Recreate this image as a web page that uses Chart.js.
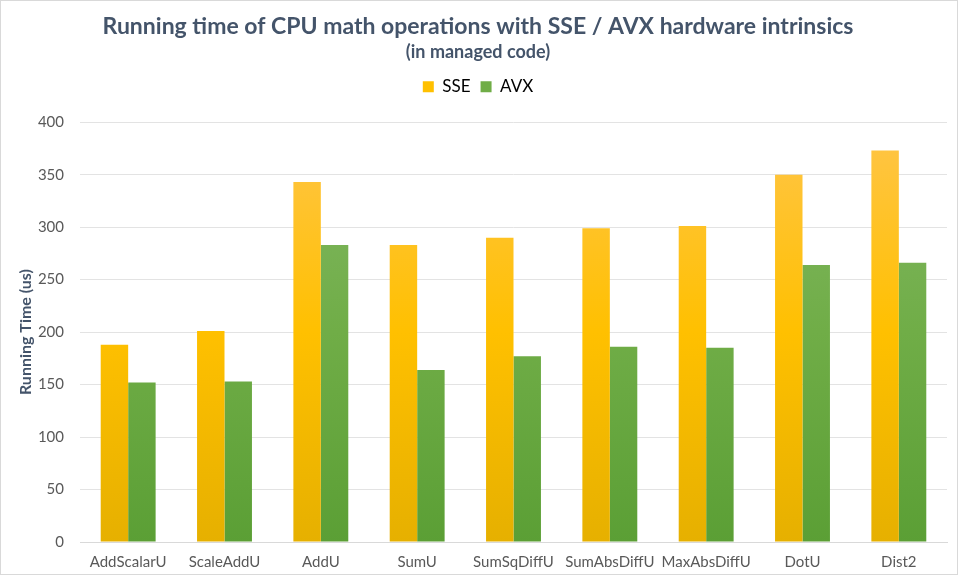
<!DOCTYPE html>
<html>
<head>
<meta charset="utf-8">
<script src="https://cdn.jsdelivr.net/npm/chart.js@4"></script>
<style>
  html, body { margin: 0; padding: 0; background: #fff; }
  #wrap { width: 958px; height: 575px; position: relative; box-sizing: border-box; border: 1px solid #d9d9d9; }
</style>
</head>
<body>
<div id="wrap"><canvas id="chart"></canvas></div>
<script>
// --- Data ---
const categories = ['AddScalarU', 'ScaleAddU', 'AddU', 'SumU', 'SumSqDiffU', 'SumAbsDiffU', 'MaxAbsDiffU', 'DotU', 'Dist2'];
const sseValues = [188, 201, 343, 283, 290, 299, 301, 350, 373];
const avxValues = [152, 153, 283, 164, 177, 186, 185, 264, 266];
const yTicks = [0, 50, 100, 150, 200, 250, 300, 350, 400];

const FONT = 'Lato, "Open Sans", sans-serif';
const TEXT_DARK = '#44546a';
const TEXT_GRAY = '#595959';
const LEGEND_GAP = 17; // extra space between legend and plot

// vertical gradient over the chart area, light at top, darker at bottom
function barGradient(stops) {
    return function (ctx) {
        const area = ctx.chart.chartArea;
        if (!area) return stops[1];
        const g = ctx.chart.ctx.createLinearGradient(0, area.top, 0, area.bottom);
        g.addColorStop(0, stops[0]);
        g.addColorStop(0.5, stops[1]);
        g.addColorStop(1, stops[2]);
        return g;
    };
}

// pad the legend box at the bottom so the plot starts lower
const legendGap = {
    id: 'legendGap',
    afterInit(chart) {
        const lg = chart.legend;
        if (!lg) return;
        const fit = lg.fit;
        lg.fit = function () { fit.call(this); this.height += LEGEND_GAP; };
    }
};

const ctx = document.getElementById('chart').getContext('2d');
new Chart(ctx, {
    type: 'bar',
    data: {
        labels: categories,
        datasets: [
            {
                label: 'SSE',
                data: sseValues,
                backgroundColor: barGradient(['#ffc54a', '#ffc000', '#e6b000'])
            },
            {
                label: 'AVX',
                data: avxValues,
                backgroundColor: barGradient(['#82b865', '#70ad47', '#5b9f35'])
            }
        ]
    },
    plugins: [legendGap],
    options: {
        responsive: true,
        maintainAspectRatio: false,
        animation: false,
        datasets: { bar: { categoryPercentage: 0.57, barPercentage: 1.0 } },
        layout: { padding: { left: 8, right: 10, top: 0, bottom: 3 } },
        plugins: {
            title: {
                display: true,
                text: 'Running time of CPU math operations with SSE / AVX hardware intrinsics',
                color: TEXT_DARK,
                font: { family: FONT, size: 23, weight: 'bold' },
                padding: { top: 12, bottom: 1 }
            },
            subtitle: {
                display: true,
                text: '(in managed code)',
                color: TEXT_DARK,
                font: { family: FONT, size: 18, weight: 'bold' },
                padding: { top: 0, bottom: 5 }
            },
            legend: {
                display: true,
                position: 'top',
                labels: {
                    color: TEXT_GRAY,
                    font: { family: FONT, size: 17 },
                    boxWidth: 11,
                    boxHeight: 11,
                    padding: 10,
                    generateLabels: function (chart) {
                        return [
                            { text: 'SSE', fillStyle: '#ffc000', strokeStyle: '#ffc000', lineWidth: 0, datasetIndex: 0 },
                            { text: 'AVX', fillStyle: '#70ad47', strokeStyle: '#70ad47', lineWidth: 0, datasetIndex: 1 }
                        ];
                    }
                }
            },
            tooltip: { enabled: false }
        },
        scales: {
            x: {
                afterFit: function (axis) { axis.height = 29; },
                grid: { display: false, drawTicks: false },
                border: { display: true, color: '#d9d9d9' },
                ticks: { color: TEXT_GRAY, font: { family: FONT, size: 15 }, padding: 11, maxRotation: 0, autoSkip: false }
            },
            y: {
                min: 0,
                max: 400,
                afterBuildTicks: function (axis) { axis.ticks = yTicks.map(v => ({ value: v })); },
                afterFit: function (axis) { axis.width = 71; },
                grid: { color: '#e3e3e3', drawTicks: false },
                border: { display: false },
                ticks: { color: TEXT_GRAY, font: { family: FONT, size: 15 }, padding: 16 },
                title: {
                    display: true,
                    text: 'Running Time (us)',
                    color: TEXT_DARK,
                    font: { family: FONT, size: 16, weight: 'bold' },
                    padding: { top: 7, bottom: 4 }
                }
            }
        }
    }
});
</script>
</body>
</html>
